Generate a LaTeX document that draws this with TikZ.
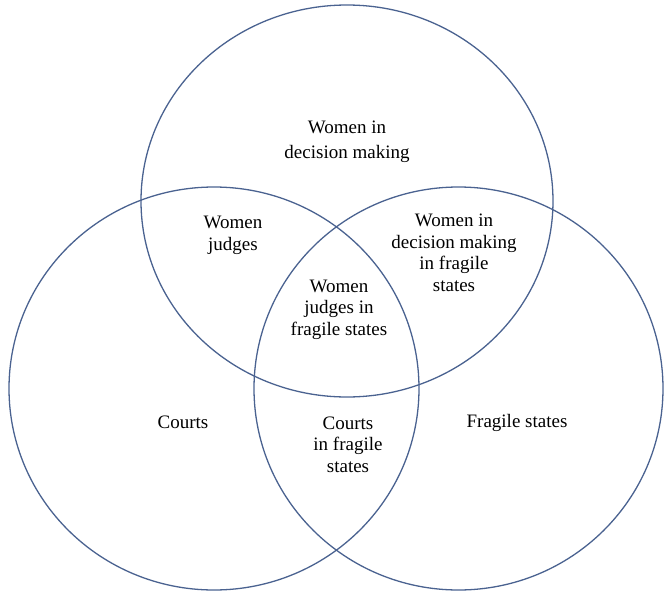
\documentclass[tikz,border=0pt]{standalone}
\usepackage{fontspec}
\setmainfont{Liberation Serif}
\definecolor{ringcol}{HTML}{4A6290}
\begin{document}
\begin{tikzpicture}[x=1pt,y=-1pt,
  ring/.style={draw=ringcol,line width=1.3pt},
  lbl/.style={align=center,anchor=base,inner sep=0pt,font=\fontsize{19}{21.5}\selectfont}]
\useasboundingbox (0,0) rectangle (665,592);
\draw[ring] (347,201) ellipse [x radius=206,y radius=196];
\draw[ring] (214,388.5) ellipse [x radius=205,y radius=201.5];
\draw[ring] (458.5,388.5) ellipse [x radius=204.5,y radius=201.5];
\node[lbl,font=\fontsize{19}{25}\selectfont] (dm) at (347,158) {Women in\\decision making};
\node[lbl] (wj) at (233,250) {Women\\judges};
\node[lbl] (dmf) at (454,291) {Women in\\decision making\\in fragile\\states};
\node[lbl] (wjf) at (339,335) {Women\\judges in\\fragile states};
\node[lbl] (c) at (183,428) {Courts};
\node[lbl] (cf) at (348,472) {Courts\\in fragile\\states};
\node[lbl] (fs) at (517,427) {Fragile states};
\end{tikzpicture}
\end{document}
